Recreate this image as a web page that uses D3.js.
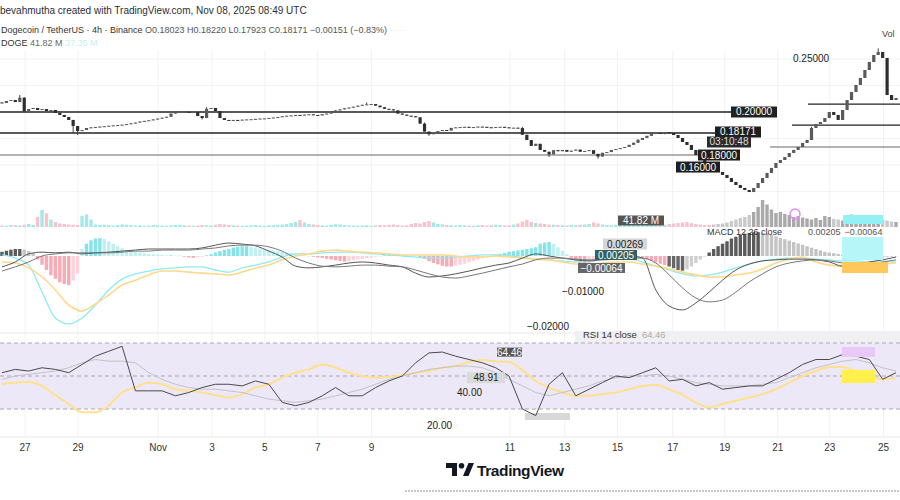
<!DOCTYPE html>
<html><head><meta charset="utf-8">
<script src="https://cdn.jsdelivr.net/npm/d3@7"></script>
<style>body{margin:0;background:#fff;} svg{display:block;font-family:"Liberation Sans",Arial,sans-serif;}</style>
</head><body><svg id="c" width="900" height="500"></svg>
<script>
// ---------- DATA (prices in 1e-4 USDT, 4h candles) ----------
const firstOpen = 2090;
const closes = [
 2085,2104,2113,2094,2135,2005,2028,2038,2019,2028,
 2009,2019,1991,1972,1953,1925,1868,1820,1830,1849,
 1855,1858,1862,1866,1870,1874,1877,1880,1886,1893,
 1900,1910,1916,1922,1930,1938,1946,1955,1985,1995,
 2000,2002,1998,2000,1962,1943,2030,2038,2009,1943,
 1925,1920,1925,1922,1928,1930,1932,1935,1938,1940,
 1944,1948,1953,1960,1965,1968,1972,1970,1975,1978,
 1972,1968,1980,1985,2005,2015,2025,2035,2042,2050,
 2060,2068,2072,2075,2060,2045,2030,2025,2015,1985,
 1975,1965,1960,1950,1890,1815,1790,1810,1820,1830,
 1825,1850,1855,1858,1860,1855,1858,1862,1860,1856,
 1852,1858,1860,1855,1850,1852,1848,1785,1736,1680,
 1700,1642,1625,1600,1640,1630,1642,1625,1635,1645,
 1625,1632,1640,1605,1580,1615,1622,1642,1650,1660,
 1670,1690,1710,1736,1755,1775,1792,1802,1800,1810,
 1802,1783,1755,1717,1689,1642,1594,1547,1519,1500,
 1472,1434,1406,1377,1340,1311,1283,1264,1245,1283,
 1330,1377,1425,1472,1519,1547,1575,1613,1642,1670,
 1708,1736,1849,1887,1906,1943,2000,1972,1925,2019,
 2113,2189,2255,2321,2396,2472,2538,2566,2510,2160,
 2113,2132
];
const wickHighs = {4:2160, 5:2140, 17:1840, 46:2045, 82:2090, 95:1900, 117:1860, 143:1745, 182:1860, 197:2600};
const wickLows  = {16:1800, 17:1783, 45:1930, 96:1775, 123:1575, 134:1560, 149:1790};
// volume in millions DOGE
const volumes = [
 6,5,8,7,6,9,12,8, 40,68,55,30,20, 14,12,10,9,8, 45,50,30,
 10,8,9,7,6,8,10,9,8,6,7,5,6,8,7,6,5,7,8,9,
 7,6,5,6,8,7,6,9,12,10,8,7,6,5,6,7,8,6,5,7,
 8,9,10,12,16,20,28,18,12,10,8,7,6,9,11,10,8,7,6,5,
 6,7,5,6,8,7,9,10,8,6,7,12,16,14,20,24,18,12,10,8,
 7,6,8,7,6,5,7,8,6,7,9,8,6,7,10,14,22,28,20,16,
 14,12,10,9,8,7,6,8,7,9,10,12,18,14,10,8,7,9,8,7,
 8,10,12,14,10,8,6,7,9,12,14,16,18,20,15,12,10,8,9,10,
 12,14,18,24,30,36,40,48,60,80,108,90,70,56,60,52,48,40,44,38,
 34,30,36,28,44,40,32,30,26,28,50,46,38,30,34,28,24,30,26,22,20
];
// MACD histogram per candle (1e-4)
const macdHist = [
 12,15,18,20,20,18,14,8,
 -10,-25,-40,-55,-65,-75,-80,-83,-70,-50,
 20,35,45,50,51,48,42,35,28,
 22,18,15,12,10,8,6,5,4,3,2,2,1,1,
 -2,-4,-5,-3,-2,2,5,10,14,18,20,24,26,28,28,26,24,22,20,18,
 16,14,12,10,8,6,4,2,0,-2,-4,-6,-8,-10,-12,-14,-16,-15,-12,-10,
 -8,-6,-4,-2,0,2,4,5,6,5,4,2,0,-3,-8,-15,-20,-24,-28,-30,
 -30,-28,-25,-22,-18,-14,-10,-6,-3,0,3,6,9,12,14,16,18,20,22,25,
 35,38,40,35,25,15,5,-5,-15,-20,-22,-20,-18,-15,-10,-6,-3,0,2,3,
 2,0,-3,-6,-10,-14,-18,-22,-26,-30,-35,-40,-42,-38,-30,-20,-10,0,10,20,
 28,35,42,50,55,60,64,66,68,68,66,64,60,56,52,48,44,40,36,32,
 28,24,20,16,12,10,8,6,4,2,0,-2,-4,-5,-6,-6,-5,-4,-3,-2,-1
];
// indicator lines sampled every 3 candles (1e-4)
const macdLine = [
 3,-6,-26,-103,-177,-194,-177,-140,-97,-66,-51,-43,-37,-34,-31,-31,-40,-46,-34,-26,-17,-3,6,
 6,9,11,11,9,6,3,0,-3,-6,-6,-3,0,3,3,0,-3,-9,-11,-14,-17,-14,-11,-9,-9,-17,-29,-40,-51,-57,
 -54,-46,-34,-23,-14,-9,-6,-6,-9,-11,-14,-14,-17,-17,-17
];
const signalLine = [
 -17,-20,-34,-60,-97,-140,-157,-137,-111,-83,-69,-54,-43,-43,-46,-49,-51,-54,-46,-34,
 -26,-11,0,6,14,17,14,11,9,6,3,3,3,3,0,-3,-3,0,-3,-6,
 -9,-11,-17,-23,-23,-20,-17,-17,-23,-29,-37,-46,-54,-60,-60,-54,-49,-37,-20,-9,
 -3,-17,-26,-29,-29,-26,-23,-20
];
const macdLineB = [
 -31,-17,6,11,9,11,6,9,11,14,17,20,20,20,20,23,31,37,34,29,
 14,-3,-29,-34,-31,-26,-20,-17,-20,-26,-31,-49,-60,-57,-51,-43,-34,-26,-20,-6,
 6,0,-6,-11,-14,-9,-3,0,-6,-97,-143,-154,-134,-103,-69,-40,-23,-14,-11,-9,
 -9,-11,-17,-29,-26,-17,-11,-3
];
const signalLineB = [
 -43,-31,-17,0,6,9,9,9,9,11,14,14,17,17,17,20,23,29,31,31,
 26,14,-6,-20,-29,-31,-29,-26,-26,-29,-31,-40,-51,-60,-63,-57,-49,-40,-31,-23,
 -11,-6,-6,-9,-11,-11,-9,-6,-6,-20,-54,-91,-120,-131,-126,-103,-74,-51,-31,-20,
 -14,-11,-14,-20,-23,-23,-17,-11
];
const rsiValues = [
 52,54,53,55,54,52,57,62,65,68,41,41,41,38,40,43,45,45,44,47,
 45,34,32,34,38,43,38,38,43,47,50,58,64,64.5,62,60,58,55,50,30,
 26,45,52,38,42,46,50,49,52,55,47,48,44,46,42,43,44,44,48,52,
 57,60,60,63,62,60,48,52
];
const rsiMa = [
 48,50,51,52,53,55,58,60,59,59,58,52,48,45,43,42,42,41,40,38,
 36,35,34,35,36,38,40,42,45,48,50,52,54,55,56,56,55,52,48,44,
 40,38,40,42,44,47,49,50,50,51,50,48,46,45,44,44,44,45,46,49,
 52,55,57,59,60,58,55,53
];
const rsiSlow = [
 45,46,46.4,44,38.5,33,28,28,32,40,43,46,45,42,41,40,38.5,37,39,43,
 45,49,52,54,57,55,52,50,49,49.5,50.5,52,53,55,56,58.5,59.7,59,58.5,53.6,
 47,43,40,38,38,39,40,42,44,44.5,42,38.5,34,31,33,35,37,39,42,46,
 50,53,55.5,55.5,53,50.6,48,49
];
const tickLabels = ["27","29","Nov","3","5","7","9","11","13","15","17","19","21","23","25"];
const tickCandle = [5.2,17.1,35.1,47.2,59.1,71,83.1,114.2,126.5,138.4,150.8,162.5,174.4,186.1,198.2];
const levelsLeft = [0.2, 0.1802];
const levelsLeftGray = [0.1594];
const levelsRight = [0.2075, 0.1877];
const levelsRightGray = [0.167];
const priceTicks = [0.25];
const macdTicks = [-0.01, -0.02];
const rsiTicks = [40, 20];
const rsiBands = [70, 50, 30];

// ---------- SCALES ----------
const svg = d3.select("#c");
const N = closes.length;
const x = d3.scaleLinear().domain([0, N - 1]).range([2, 896]);
const yP = d3.scaleLinear().domain([0.10283, 0.25849]).range([215, 50]);
const yV = d3.scaleLinear().domain([0, 100]).range([227, 202]);
const yM = d3.scaleLinear().domain([-0.02, 0.01]).range([326, 221]);
const yR = d3.scaleLinear().domain([30, 70]).range([409, 343]);
const step = 3;

// ---------- GRID ----------
const grid = svg.append("g").attr("stroke", "#f0f2f6").attr("stroke-width", 1);
grid.selectAll("line.v").data(tickCandle).join("line")
  .attr("x1", d => x(d)).attr("x2", d => x(d)).attr("y1", 50).attr("y2", 437);
grid.selectAll("line.h").data([0.25, 0.225, 0.175, 0.15, 0.125]).join("line")
  .attr("x1", 0).attr("x2", 900).attr("y1", d => yP(d)).attr("y2", d => yP(d));
svg.append("line").attr("x1",0).attr("x2",900).attr("y1",333).attr("y2",333).attr("stroke","#e6e8ec");
svg.append("line").attr("x1",0).attr("x2",900).attr("y1",437).attr("y2",437).attr("stroke","#e6e8ec");

// ---------- HEADER ----------
svg.append("text").attr("x", 0).attr("y", 14).attr("font-size", 10).attr("fill", "#2a2e39")
  .text("bevahmutha created with TradingView.com, Nov 08, 2025 08:49 UTC");
const t2 = svg.append("text").attr("x", 1).attr("y", 33).attr("font-size", 9).attr("fill", "#333");
t2.append("tspan").text("Dogecoin / TetherUS · 4h · Binance ");
t2.append("tspan").attr("fill", "#555").text("O0.18023 H0.18220 L0.17923 C0.18171 −0.00151 (−0.83%)");
t2.append("tspan").attr("fill", "#bdf3f5").text(" ·····");
const t3 = svg.append("text").attr("x", 1).attr("y", 46).attr("font-size", 9).attr("fill", "#333");
t3.append("tspan").text("DOGE  ");
t3.append("tspan").attr("fill", "#666").text("41.82 M  ");
t3.append("tspan").attr("fill", "#c4f1f4").text("37.35 M");
svg.append("text").attr("x", 882).attr("y", 37).attr("font-size", 9).attr("fill", "#444").text("Vol");

// ---------- PRICE LEVEL LINES ----------
svg.selectAll("line.lvl").data(levelsLeft).join("line")
  .attr("x1", 0).attr("x2", (d, i) => i === 0 ? 740 : 720)
  .attr("y1", d => yP(d)).attr("y2", d => yP(d)).attr("stroke", "#222").attr("stroke-width", 1.3);
svg.selectAll("line.lvlg").data(levelsLeftGray).join("line")
  .attr("x1", 0).attr("x2", 700)
  .attr("y1", d => yP(d)).attr("y2", d => yP(d)).attr("stroke", "#999").attr("stroke-width", 1.5);
svg.selectAll("line.lvr").data(levelsRight).join("line")
  .attr("x1", (d, i) => i === 0 ? 808 : 792).attr("x2", 900)
  .attr("y1", d => yP(d)).attr("y2", d => yP(d)).attr("stroke", "#222").attr("stroke-width", 1.2);
svg.selectAll("line.lvrg").data(levelsRightGray).join("line")
  .attr("x1", 770).attr("x2", 900)
  .attr("y1", d => yP(d)).attr("y2", d => yP(d)).attr("stroke", "#999").attr("stroke-width", 1.5);

// ---------- CANDLES ----------
const candles = closes.map((c, i) => {
  const o = i === 0 ? firstOpen : closes[i - 1];
  const h = Math.max(o, c, wickHighs[i] || 0);
  const l = Math.min(o, c, wickLows[i] || 99999);
  return {i, o: o / 1e4, c: c / 1e4, h: h / 1e4, l: l / 1e4};
});
const cg = svg.append("g");
cg.selectAll("line").data(candles).join("line")
  .attr("x1", d => x(d.i)).attr("x2", d => x(d.i))
  .attr("y1", d => yP(d.h)).attr("y2", d => yP(d.l))
  .attr("stroke", "#444").attr("stroke-width", 1);
cg.selectAll("rect").data(candles).join("rect")
  .attr("x", d => x(d.i) - 1.6).attr("width", 3.2)
  .attr("y", d => yP(Math.max(d.o, d.c)))
  .attr("height", d => Math.max(1, Math.abs(yP(d.o) - yP(d.c))))
  .attr("fill", d => d.c >= d.o ? "#5a5a5a" : "#2e2e2e");

// ---------- VOLUME ----------
svg.append("g").selectAll("rect").data(volumes).join("rect")
  .attr("x", (d, i) => x(i) - 1.7).attr("width", 3.4)
  .attr("y", d => yV(d)).attr("height", d => yV(0) - yV(d))
  .attr("fill", (d, i) => {
    const up = candles[i].c >= candles[i].o;
    if (i >= 160) return up ? "#a9a9a9" : "#c9c9c9";
    return up ? "#a3e8eb" : "#f8c3ca";
  });

// ---------- MACD ----------
const hg = svg.append("g");
hg.selectAll("rect").data(macdHist).join("rect")
  .attr("x", (d, i) => x(i) - 1.7).attr("width", 3.4)
  .attr("y", d => yM(Math.max(0, d / 1e4)))
  .attr("height", d => Math.max(0.5, Math.abs(yM(d / 1e4) - yM(0))))
  .attr("fill", (d, i) => {
    const prev = i ? macdHist[i - 1] : d;
    const grow = Math.abs(d) >= Math.abs(prev);
    if (i >= 150 || i < 8) return d >= 0 ? (grow ? "#5b5b5b" : "#c4c4c4") : (grow ? "#666" : "#cfcfcf");
    return d >= 0 ? (grow ? "#86e3e8" : "#bff0f2") : (grow ? "#f8aab5" : "#fdd3d9");
  });
const lineGen = arr => d3.line().x((d, k) => x(k * step)).y(d => yM(d / 1e4)).curve(d3.curveMonotoneX)(arr);
svg.append("path").attr("d", lineGen(macdLine)).attr("fill", "none").attr("stroke", "#8cecf2").attr("stroke-width", 1.3);
svg.append("path").attr("d", lineGen(signalLine)).attr("fill", "none").attr("stroke", "#ffd98a").attr("stroke-width", 1.6);
svg.append("path").attr("d", lineGen(macdLineB)).attr("fill", "none").attr("stroke", "#555").attr("stroke-width", 1);
svg.append("path").attr("d", lineGen(signalLineB)).attr("fill", "none").attr("stroke", "#777").attr("stroke-width", 1);

// ---------- RSI ----------
svg.append("rect").attr("x", 0).attr("width", 900).attr("y", yR(70)).attr("height", yR(30) - yR(70))
  .attr("fill", "#ece8f7");
svg.append("rect").attr("x", 575).attr("width", 325).attr("y", 331).attr("height", yR(70) - 331).attr("fill", "#f0f0f2");
svg.selectAll("line.band").data(rsiBands).join("line")
  .attr("x1", 0).attr("x2", 900).attr("y1", d => yR(d)).attr("y2", d => yR(d))
  .attr("stroke", "#a8a8b0").attr("stroke-dasharray", "4,3").attr("stroke-width", 1);
svg.append("rect").attr("x", 525).attr("y", 413).attr("width", 45).attr("height", 7).attr("fill", "#d8d8d8");
const rline = arr => d3.line().x((d, k) => x(k * step)).y(d => yR(d))(arr);
svg.append("path").attr("d", d3.line().x((d, k) => x(k * step)).y(d => yR(d)).curve(d3.curveMonotoneX)(rsiSlow))
  .attr("fill", "none").attr("stroke", "#ffe08c").attr("stroke-width", 2);
svg.append("path").attr("d", rline(rsiMa)).attr("fill", "none").attr("stroke", "#c2c2c8").attr("stroke-width", 1);
svg.append("path").attr("d", rline(rsiValues)).attr("fill", "none").attr("stroke", "#4a4a4a").attr("stroke-width", 1);

// ---------- AXIS LABELS ----------
const xa = svg.append("g").attr("font-size", 10).attr("fill", "#333").attr("text-anchor", "middle");
xa.selectAll("text").data(tickLabels).join("text")
  .attr("x", (d, i) => x(tickCandle[i])).attr("y", 451).text(d => d);
svg.selectAll("text.pt").data(priceTicks).join("text").attr("x", 793).attr("y", d => yP(d) + 3.5)
  .attr("font-size", 10).attr("fill", "#222").text(d => d.toFixed(5));
svg.selectAll("text.mt").data(macdTicks).join("text")
  .attr("x", (d, i) => i === 0 ? 562 : 527).attr("y", d => yM(d) + 3.5)
  .attr("font-size", 10).attr("fill", "#222").text(d => "−" + Math.abs(d).toFixed(5));
svg.selectAll("text.rt").data(rsiTicks).join("text")
  .attr("x", (d, i) => i === 0 ? 457 : 427).attr("y", d => yR(d) + 3.5)
  .attr("font-size", 10).attr("fill", "#222").text(d => d.toFixed(2));

// ---------- BOX LABELS ----------
function box(x0, yc, w, txt, fill, color, h) {
  h = h || 11;
  svg.append("rect").attr("x", x0).attr("y", yc - h / 2).attr("width", w).attr("height", h).attr("fill", fill);
  svg.append("text").attr("x", x0 + w / 2).attr("y", yc + 3.5).attr("text-anchor", "middle")
    .attr("font-size", 10).attr("fill", color).text(txt);
}
box(731, yP(0.2), 46, "0.20000", "#222", "#fff");
box(715, yP(0.1802) - 1, 46, "0.18171", "#1e1e1e", "#fff");
box(707, yP(0.1802) + 9, 44, "03:10:48", "#2b2b2b", "#ddd");
box(698, yP(0.1594), 42, "0.18000", "#1e1e1e", "#fff");
box(676, yP(0.1594) + 12, 44, "0.16000", "#1e1e1e", "#fff");
box(618, 220.5, 46, "41.82 M", "#555", "#fff", 10);
box(603, 244, 44, "0.00269", "#d6d6d6", "#222");
box(595, 255, 42, "0.00205", "#35605d", "#fff", 10);
box(578, 268, 47, "−0.00064", "#666", "#fff", 10);
box(497, yR(64.46), 25, "64.46", "#555", "#fff", 9);
box(467, yR(48.91), 38, "48.91", "#dadada", "#222");

// right-side glitch value tags
svg.append("rect").attr("x", 843).attr("y", 215).attr("width", 40).attr("height", 9).attr("fill", "#93f1f6");
svg.append("rect").attr("x", 842).attr("y", 237).attr("width", 41).attr("height", 23).attr("fill", "#b6f5f8");
svg.append("rect").attr("x", 842).attr("y", 262).attr("width", 46).attr("height", 11).attr("fill", "#ffc85c");
svg.append("rect").attr("x", 842).attr("y", 347).attr("width", 33).attr("height", 10).attr("fill", "#e7c8f6");
svg.append("rect").attr("x", 842).attr("y", 370).attr("width", 33).attr("height", 13).attr("fill", "#fff04c");
svg.append("circle").attr("cx", 795).attr("cy", 214).attr("r", 5).attr("fill", "none").attr("stroke", "#e58cf5").attr("stroke-width", 1.5);

// legends
const ml = svg.append("text").attr("x", 707).attr("y", 235).attr("font-size", 9).attr("fill", "#333");
ml.append("tspan").text("MACD 12 26 close");
ml.append("tspan").attr("dx", 26).attr("fill", "#555").text("0.00205");
ml.append("tspan").attr("dx", 4).attr("fill", "#555").text("−0.00064");
const rl = svg.append("text").attr("x", 583).attr("y", 338).attr("font-size", 9.5).attr("fill", "#333");
rl.append("tspan").text("RSI 14 close");
rl.append("tspan").attr("dx", 5).attr("fill", "#aaa").text("64.46");

// ---------- LOGO ----------
const lg = svg.append("g").attr("fill", "#131722");
lg.append("path").attr("d", "M446,463 h11 v13 h-5 v-8 h-6 z");
lg.append("circle").attr("cx", 461.5).attr("cy", 465.8).attr("r", 2.8);
lg.append("path").attr("d", "M463,476 l5.5,-13 h5.5 l-5.5,13 z");
svg.append("text").attr("x", 477).attr("y", 476).attr("font-size", 15.5).attr("font-weight", 700)
  .attr("fill", "#131722").attr("letter-spacing", -0.4).text("TradingView");
svg.append("line").attr("x1", 405).attr("x2", 900).attr("y1", 491).attr("y2", 491)
  .attr("stroke", "#b5b5b5").attr("stroke-width", 1.5).attr("stroke-dasharray", "2,1");
</script></body></html>
